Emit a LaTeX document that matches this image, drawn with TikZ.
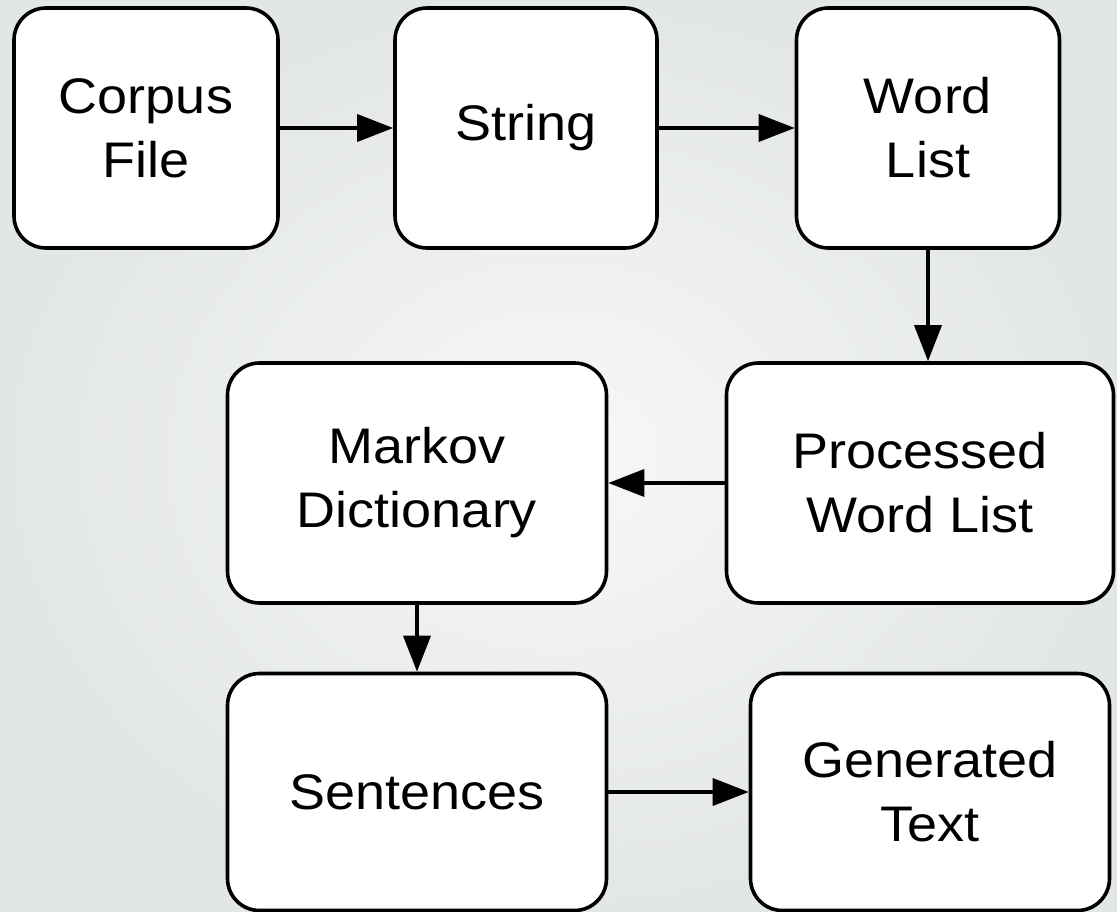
\documentclass[tikz,border=0pt]{standalone}
\usepackage{fontspec}
\setmainfont[FakeStretch=1.08]{Liberation Sans}
\usetikzlibrary{arrows.meta}
\definecolor{bgin}{HTML}{F7F8F8}
\definecolor{bgout}{HTML}{E3E6E6}
\tikzset{
  box/.style={draw=black, line width=3.6pt, fill=white, rounded corners=32pt,
    inner sep=0pt, align=center, font=\fontsize{50}{64}\selectfont},
  flow/.style={draw=black, line width=3.6pt, -{Triangle[length=36pt,width=27pt]}},
}
\begin{document}
\begin{tikzpicture}[x=1pt,y=-1pt]
\useasboundingbox (0,0) rectangle (1117,912);
\shade[inner color=bgin, outer color=bgout] (0,0) rectangle (1117,912);
\node[box, minimum width=264pt, minimum height=240pt] (corpus) at (146,128) {Corpus\\File};
\node[box, minimum width=262pt, minimum height=240pt] (string) at (526,128) {String};
\node[box, minimum width=263pt, minimum height=240pt] (word) at (928,128) {Word\\List};
\node[box, minimum width=387pt, minimum height=240pt] (proc) at (920,483) {Processed\\Word List};
\node[box, minimum width=379pt, minimum height=240pt] (markov) at (417,483) {Markov\\Dictionary};
\node[box, minimum width=379pt, minimum height=237pt] (sent) at (417,792) {Sentences};
\node[box, minimum width=359pt, minimum height=237pt] (gen) at (930,792) {Generated\\Text};
\draw[flow] (corpus) -- (string);
\draw[flow] (string) -- (word);
\draw[flow] (word) -- (proc.north -| word);
\draw[flow] (proc) -- (markov);
\draw[flow] (markov) -- (sent);
\draw[flow] (sent) -- (gen);
\end{tikzpicture}
\end{document}
